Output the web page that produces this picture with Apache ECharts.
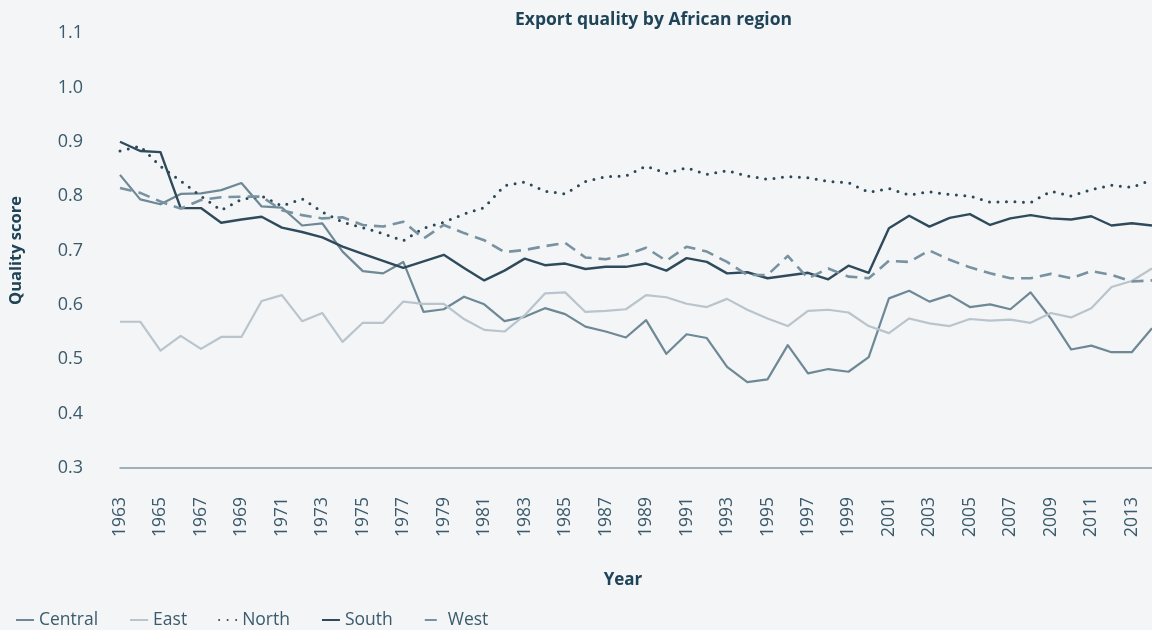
<!DOCTYPE html>
<html>
<head>
<meta charset="utf-8">
<title>Export quality by African region</title>
<script src="https://cdn.jsdelivr.net/npm/echarts@6/dist/echarts.min.js"></script>
<style>
  html, body { margin: 0; padding: 0; background: #f3f5f7; }
  #chart { width: 1152px; height: 630px; }
</style>
</head>
<body>
<div id="chart"></div>
<script>
// Years 1963–2014
const years = [];
for (let y = 1963; y <= 2014; y++) years.push(String(y));

// Export quality score per region
const central = [0.839, 0.794, 0.785, 0.804, 0.805, 0.811, 0.824, 0.781, 0.779, 0.746,
  0.750, 0.698, 0.662, 0.658, 0.679, 0.587, 0.592, 0.615, 0.601, 0.570,
  0.578, 0.594, 0.583, 0.560, 0.551, 0.540, 0.572, 0.510, 0.546, 0.539,
  0.486, 0.458, 0.463, 0.526, 0.474, 0.482, 0.477, 0.504, 0.612, 0.626,
  0.606, 0.618, 0.596, 0.601, 0.592, 0.623, 0.575, 0.518, 0.525, 0.513,
  0.513, 0.557];
const east = [0.569, 0.569, 0.516, 0.543, 0.519, 0.541, 0.541, 0.607, 0.618, 0.570,
  0.585, 0.532, 0.567, 0.567, 0.606, 0.602, 0.602, 0.574, 0.554, 0.551,
  0.581, 0.621, 0.623, 0.587, 0.589, 0.592, 0.618, 0.614, 0.602, 0.596,
  0.611, 0.591, 0.575, 0.561, 0.589, 0.591, 0.586, 0.561, 0.548, 0.575,
  0.566, 0.561, 0.574, 0.571, 0.573, 0.567, 0.585, 0.577, 0.594, 0.633,
  0.644, 0.667];
const north = [0.883, 0.892, 0.855, 0.828, 0.800, 0.774, 0.794, 0.800, 0.782, 0.795,
  0.771, 0.752, 0.742, 0.731, 0.718, 0.741, 0.752, 0.767, 0.779, 0.819,
  0.826, 0.809, 0.804, 0.827, 0.836, 0.837, 0.855, 0.842, 0.852, 0.840,
  0.847, 0.837, 0.831, 0.836, 0.834, 0.827, 0.825, 0.807, 0.814, 0.802,
  0.808, 0.803, 0.800, 0.789, 0.790, 0.788, 0.809, 0.800, 0.812, 0.820,
  0.816, 0.830];
const south = [0.900, 0.883, 0.881, 0.778, 0.778, 0.751, 0.757, 0.762, 0.742, 0.734,
  0.724, 0.707, 0.694, 0.681, 0.668, 0.680, 0.692, 0.668, 0.645, 0.663,
  0.685, 0.673, 0.676, 0.666, 0.670, 0.670, 0.676, 0.663, 0.686, 0.679,
  0.658, 0.660, 0.649, 0.654, 0.659, 0.647, 0.672, 0.659, 0.741, 0.764,
  0.744, 0.760, 0.767, 0.747, 0.759, 0.765, 0.759, 0.757, 0.763, 0.746,
  0.750, 0.746];
const west = [0.815, 0.806, 0.790, 0.777, 0.793, 0.798, 0.799, 0.799, 0.774, 0.765,
  0.759, 0.761, 0.747, 0.744, 0.753, 0.722, 0.747, 0.732, 0.719, 0.697,
  0.701, 0.708, 0.714, 0.687, 0.684, 0.692, 0.705, 0.681, 0.707, 0.698,
  0.679, 0.655, 0.655, 0.690, 0.649, 0.667, 0.652, 0.649, 0.681, 0.679,
  0.700, 0.683, 0.669, 0.658, 0.649, 0.649, 0.657, 0.649, 0.662, 0.655,
  0.643, 0.645];

const FONT = '"Open Sans", "Noto Sans", sans-serif';
const INK = '#1f4357';
const LABEL = '#3b5a6b';

const chart = echarts.init(document.getElementById('chart'), null, { renderer: 'canvas' });

function line(name, data, color, type, width, cap) {
  return {
    name, type: 'line', data,
    symbol: 'none', showSymbol: false, smooth: false,
    lineStyle: { color, width, type, cap: cap || 'butt', join: 'round' },
    itemStyle: { color },
    emphasis: { disabled: true },
    z: 2
  };
}

chart.setOption({
  backgroundColor: '#f3f5f7',
  animation: false,
  textStyle: { fontFamily: FONT },
  title: {
    text: 'Export quality by African region',
    left: 510, top: 6,
    textStyle: { fontFamily: FONT, fontSize: 17.5, fontWeight: 'bold', color: INK }
  },
  legend: {
    left: 10, top: 606,
    itemWidth: 18, itemHeight: 16, itemGap: 31,
    itemStyle: { opacity: 0 },
    textStyle: { fontFamily: FONT, fontSize: 17.5, color: LABEL },
    data: ['Central', 'East', 'North', 'South', 'West']
  },
  grid: { left: 118, right: -4, top: 33, bottom: 162, containLabel: false },
  xAxis: {
    type: 'category',
    data: years,
    boundaryGap: false,
    name: 'Year',
    nameLocation: 'middle',
    nameGap: 104,
    nameTextStyle: { fontFamily: FONT, fontSize: 17, fontWeight: 'bold', color: INK, padding: [0, 26, 0, 0] },
    axisLine: { show: true, lineStyle: { color: '#8499a6', width: 1.5 } },
    axisTick: { show: false },
    splitLine: { show: false },
    axisLabel: {
      interval: 1, rotate: 90, margin: 29,
      fontFamily: FONT, fontSize: 17.5, color: LABEL
    }
  },
  yAxis: {
    type: 'value',
    min: 0.3, max: 1.1, interval: 0.1,
    name: 'Quality score',
    nameLocation: 'middle',
    nameGap: 95,
    nameTextStyle: { fontFamily: FONT, fontSize: 16.5, fontWeight: 'bold', color: INK },
    axisLine: { show: false },
    axisTick: { show: false },
    splitLine: { show: false },
    axisLabel: {
      margin: 37, fontFamily: FONT, fontSize: 18, color: LABEL,
      formatter: v => v.toFixed(1)
    }
  },
  series: [
    line('Central', central, '#6e8896', 'solid', 2.2),
    line('East', east, '#b9c4cc', 'solid', 2.2),
    line('North', north, '#2b4858', [0, 8.5], 3, 'round'),
    line('South', south, '#2f4b5b', 'solid', 2.4),
    line('West', west, '#7892a0', [12, 7], 2.6)
  ]
});
</script>
</body>
</html>
